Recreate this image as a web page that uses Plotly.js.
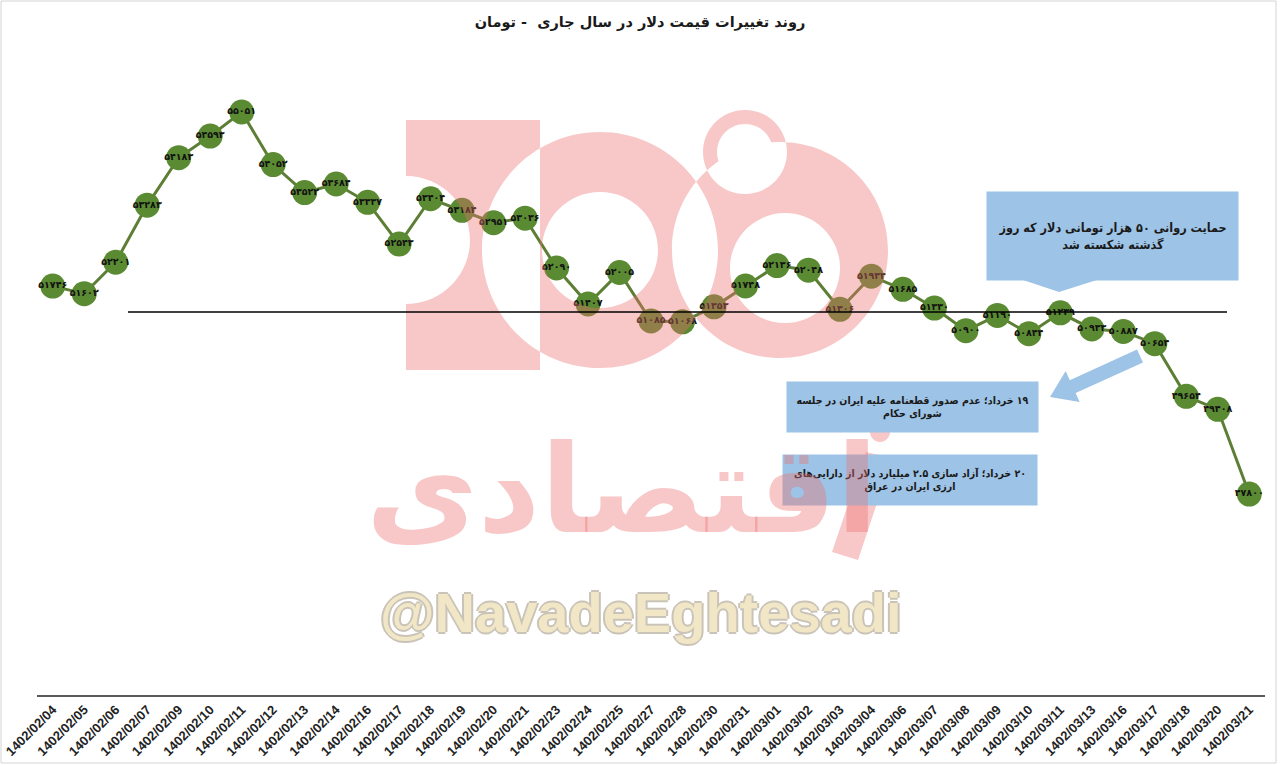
<!DOCTYPE html>
<html>
<head>
<meta charset="utf-8">
<script src="https://cdn.plot.ly/plotly-3.0.1.min.js"></script>
<style>html,body{margin:0;padding:0;background:#fff;}#chart{width:1280px;height:765px;}</style>
</head>
<body>
<div id="chart"></div>
<script>
const dates = ["1402/02/04","1402/02/05","1402/02/06","1402/02/07","1402/02/09","1402/02/10","1402/02/11","1402/02/12","1402/02/13","1402/02/14","1402/02/16","1402/02/17","1402/02/18","1402/02/19","1402/02/20","1402/02/21","1402/02/23","1402/02/24","1402/02/25","1402/02/27","1402/02/28","1402/02/30","1402/02/31","1402/03/01","1402/03/02","1402/03/03","1402/03/04","1402/03/06","1402/03/07","1402/03/08","1402/03/09","1402/03/10","1402/03/11","1402/03/13","1402/03/16","1402/03/17","1402/03/18","1402/03/20","1402/03/21"];
const prices = [51746,51602,52201,53283,54183,54593,55051,54052,53522,53684,53337,52543,53404,53184,52951,53036,52090,51407,52005,51085,51068,51353,51748,52136,52048,51306,51934,51685,51330,50900,51190,50844,51239,50933,50887,50654,49654,49408,47800];
const supportLevel = 51255;
const titleText = "روند تغییرات قیمت دلار در سال جاری  - تومان";
const RLM = "\u200F";
const note1 = RLM + "حمایت روانی ۵۰ هزار تومانی دلار که روز<br>" + RLM + "گذشته شکسته شد";
const note2 = RLM + "۱۹ خرداد؛ عدم صدور قطعنامه علیه ایران در جلسه<br>" + RLM + "شورای حکام";
const note3 = RLM + "۲۰ خرداد؛ آزاد سازی ۲.۵ میلیارد دلار از دارایی‌های<br>" + RLM + "ارزی ایران در عراق";

const W = 1280, H = 765;
const M = {l: 37, r: 15, t: 40, b: 70};
const PW = W - M.l - M.r, PH = H - M.t - M.b;
const px = (x) => (x - M.l) / PW;
const py = (y) => (H - M.b - y) / PH;

function toFa(n) {
  const d = "۰۱۲۳۴۵۶۷۸۹";
  return String(n).replace(/[0-9]/g, c => d[+c]);
}
const fmt = (p) => px(p[0]).toFixed(5) + "," + py(p[1]).toFixed(5);
function poly(pts) {
  return pts.map((p, i) => (i ? "L" : "M") + fmt(p)).join(" ") + " Z";
}
function circ(cx, cy, r, rev) {
  const k = 0.5523 * r;
  const segs = !rev ? [
    [[cx + k, cy - r], [cx + r, cy - k], [cx + r, cy]],
    [[cx + r, cy + k], [cx + k, cy + r], [cx, cy + r]],
    [[cx - k, cy + r], [cx - r, cy + k], [cx - r, cy]],
    [[cx - r, cy - k], [cx - k, cy - r], [cx, cy - r]]
  ] : [
    [[cx - k, cy - r], [cx - r, cy - k], [cx - r, cy]],
    [[cx - r, cy + k], [cx - k, cy + r], [cx, cy + r]],
    [[cx + k, cy + r], [cx + r, cy + k], [cx + r, cy]],
    [[cx + r, cy - k], [cx + k, cy - r], [cx, cy - r]]
  ];
  return "M" + fmt([cx, cy - r]) + " " + segs.map(s => "C" + s.map(fmt).join(" ")).join(" ") + " Z";
}
function notchBlock(x0, y0, x1, y1, cy, r) {
  const k = 0.5523 * r;
  return "M" + fmt([x0, y0]) + " L" + fmt([x1, y0]) + " L" + fmt([x1, y1]) + " L" + fmt([x0, y1]) +
    " L" + fmt([x0, cy + r]) +
    " C" + [[x0 + k, cy + r], [x0 + r, cy + k], [x0 + r, cy]].map(fmt).join(" ") +
    " C" + [[x0 + r, cy - k], [x0 + k, cy - r], [x0, cy - r]].map(fmt).join(" ") + " Z";
}

const blue = "#9dc3e6";
const pink = "rgba(236,110,110,0.38)";

const logoPath = [
  notchBlock(406, 120, 540, 370, 240, 64),
  circ(600, 250, 118, false), circ(600, 250, 58, true),
  circ(780, 250, 108, false), circ(785, 268, 55, true),
  circ(745, 152, 42, false)
].join(" ");
const zePath = poly([[866, 452], [892, 458], [858, 560], [832, 552]]);

const shapes = [
  {type: "rect", xref: "paper", yref: "paper", x0: px(1), x1: px(1276), y0: py(763), y1: py(1), line: {color: "#d4d4d4", width: 1}, layer: "below"},
  {type: "path", xref: "paper", yref: "paper", path: logoPath, fillcolor: pink, line: {width: 0}, layer: "above"},
  {type: "path", xref: "paper", yref: "paper", path: circ(745, 152, 28, false), fillcolor: "#ffffff", line: {width: 0}, layer: "above"},
  {type: "line", xref: "paper", yref: "y", x0: px(128), x1: px(1227), y0: supportLevel, y1: supportLevel, line: {color: "#000", width: 1.3}},
  {type: "path", xref: "paper", yref: "paper", path: poly([[1020,279],[1100,279],[1059,292]]), fillcolor: blue, line: {width: 0}},
  {type: "path", xref: "paper", yref: "paper", path: poly([[1137,349.6],[1069.8,380.2],[1065.7,371.1],[1050,397],[1079.7,402.1],[1075.6,393],[1143,362.4]]), fillcolor: blue, line: {width: 0}},
  {type: "path", xref: "paper", yref: "paper", path: zePath, fillcolor: pink, line: {width: 0}, layer: "above"},
  {type: "path", xref: "paper", yref: "paper", path: circ(880, 432, 10, false), fillcolor: pink, line: {width: 0}, layer: "above"}
];

const boxFont = {family: "DejaVu Sans Condensed, DejaVu Sans, sans-serif", color: "#1a1a1a", weight: "bold"};
const annotations = [
  {xref: "paper", yref: "paper", x: px(1112.5), y: py(236), xanchor: "center", yanchor: "middle", width: 251, height: 88, bgcolor: blue, borderpad: 0, showarrow: false, text: note1, align: "center", font: Object.assign({size: 12.5}, boxFont)},
  {xref: "paper", yref: "paper", x: px(912.5), y: py(407), xanchor: "center", yanchor: "middle", width: 251, height: 50, bgcolor: blue, borderpad: 0, showarrow: false, text: note2, align: "center", font: Object.assign({size: 10.5}, boxFont)},
  {xref: "paper", yref: "paper", x: px(910), y: py(480), xanchor: "center", yanchor: "middle", width: 254, height: 50, bgcolor: blue, borderpad: 0, showarrow: false, text: note3, align: "center", font: Object.assign({size: 10.5}, boxFont)},
  {xref: "paper", yref: "paper", x: px(622), y: py(490), xanchor: "center", yanchor: "middle", showarrow: false, text: "اقتصادی", font: {family: "DejaVu Sans, sans-serif", size: 122, weight: "bold", color: pink}},
  {xref: "paper", yref: "paper", x: px(640), y: py(612), xanchor: "center", yanchor: "middle", showarrow: false, text: "@NavadeEghtesadi", font: {family: "Liberation Sans, Arial, sans-serif", size: 56, weight: "bold", color: "#f1e6c6", shadow: "2px 0 0 #c9c3b8, -2px 0 0 #c9c3b8, 0 2px 0 #c9c3b8, 0 -2px 0 #c9c3b8"}}
];

const trace = {
  type: "scatter",
  mode: "lines+markers+text",
  x: dates,
  y: prices,
  text: prices.map(toFa),
  textposition: "middle center",
  textfont: {family: "DejaVu Sans, sans-serif", size: 9.5, color: "#111", weight: "bold"},
  line: {color: "#5d7e35", width: 3},
  marker: {color: "#5a8a32", size: 25, line: {width: 0}},
  hoverinfo: "x+y",
  cliponaxis: false
};

const layout = {
  width: W, height: H,
  margin: M,
  paper_bgcolor: "#fff",
  plot_bgcolor: "rgba(0,0,0,0)",
  showlegend: false,
  title: {text: "<b>" + titleText + "</b>", xref: "container", x: 0.5, y: 1 - 22 / H, yref: "container", yanchor: "middle", font: {family: "DejaVu Sans, sans-serif", size: 14.5, color: "#1a1a1a"}},
  xaxis: {
    type: "category",
    showgrid: false, zeroline: false,
    showline: true, linecolor: "#5a5a5a", linewidth: 2,
    ticks: "", tickangle: -45,
    tickfont: {family: "Liberation Sans, Arial, sans-serif", size: 13, color: "#222", weight: "bold"},
    range: [-0.5, dates.length - 0.5]
  },
  yaxis: {
    range: [43986, 56417],
    showgrid: false, zeroline: false, showline: false, showticklabels: false, ticks: ""
  },
  shapes: shapes,
  annotations: annotations
};

Plotly.newPlot("chart", [trace], layout, {displayModeBar: false, staticPlot: true});
</script>
</body>
</html>
